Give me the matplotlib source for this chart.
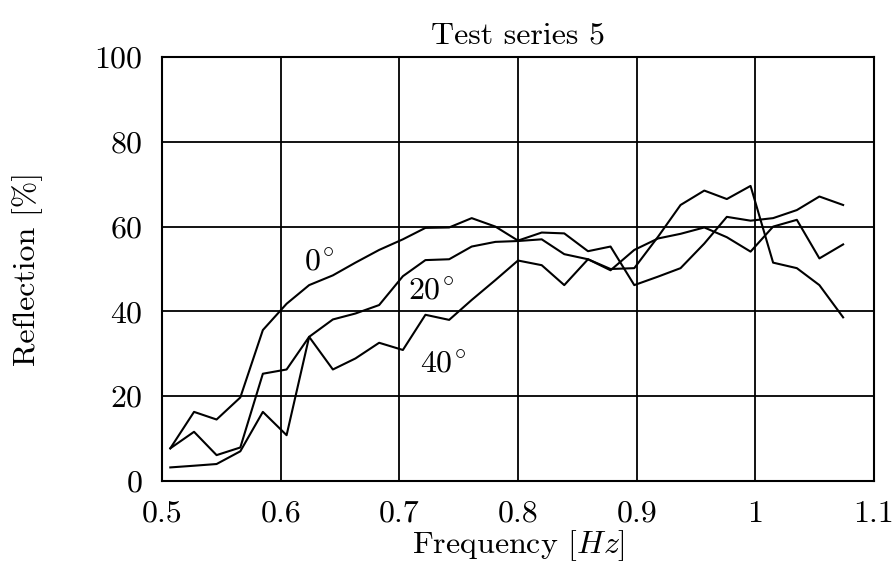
import matplotlib
matplotlib.use("Agg")
import matplotlib.pyplot as plt

# Reflection measurements, test series 5
freq = [0.507, 0.527, 0.546, 0.566, 0.585, 0.605, 0.624, 0.644, 0.663, 0.683,
        0.703, 0.722, 0.742, 0.761, 0.781, 0.800, 0.820, 0.839, 0.859, 0.878,
        0.898, 0.918, 0.937, 0.957, 0.976, 0.996, 1.015, 1.035, 1.054, 1.074]

refl_0 = [7.7, 16.3, 14.5, 19.7, 35.6, 41.8, 46.2, 48.5, 51.5, 54.5,
          57.0, 59.7, 59.8, 62.0, 60.0, 56.7, 58.6, 58.4, 54.2, 55.3,
          46.2, 48.2, 50.2, 56.0, 62.3, 61.4, 62.0, 63.9, 67.1, 65.1]

refl_20 = [7.7, 11.6, 6.1, 7.9, 25.3, 26.3, 34.0, 38.1, 39.5, 41.5,
           48.3, 52.1, 52.3, 55.3, 56.4, 56.6, 57.0, 53.5, 52.3, 49.7,
           54.5, 57.2, 58.3, 59.8, 57.5, 54.1, 60.0, 61.6, 52.5, 55.8]

refl_40 = [3.2, 3.6, 4.0, 7.0, 16.3, 10.8, 34.0, 26.3, 28.9, 32.6,
           30.9, 39.2, 38.0, 42.7, 47.4, 52.0, 50.9, 46.2, 52.3, 50.0,
           50.2, 57.6, 65.1, 68.5, 66.5, 69.6, 51.5, 50.2, 46.2, 38.6]

x_ticks = [0.5, 0.6, 0.7, 0.8, 0.9, 1.0, 1.1]
x_tick_labels = ["0.5", "0.6", "0.7", "0.8", "0.9", "1", "1.1"]
y_ticks = [0, 20, 40, 60, 80, 100]

plt.rcParams["font.family"] = "cmr10"
plt.rcParams["mathtext.fontset"] = "cm"
plt.rcParams["axes.formatter.use_mathtext"] = True

fig = plt.figure(figsize=(8.94, 5.68), dpi=100)
ax = fig.add_axes([0.1812, 0.1532, 0.7964, 0.7464])

for series in (refl_0, refl_20, refl_40):
    ax.plot(freq, series, color="black", linewidth=1.5)

# curve annotations
ax.text(0.632, 51.5, r"$0^{\!\circ}$", fontsize=23, ha="center", va="center")
ax.text(0.727, 44.6, r"$20^{\!\circ}$", fontsize=23, ha="center", va="center")
ax.text(0.737, 27.5, r"$40^{\!\circ}$", fontsize=23, ha="center", va="center")

ax.set_xlim(0.5, 1.1)
ax.set_ylim(0, 100)
ax.set_xticks(x_ticks)
ax.set_xticklabels(x_tick_labels)
ax.set_yticks(y_ticks)
ax.grid(True, color="black", linewidth=1.3)
ax.tick_params(length=0, labelsize=23, pad=14)
for spine in ax.spines.values():
    spine.set_linewidth(1.5)

ax.set_title("Test series 5", fontsize=23, pad=10)
ax.set_xlabel(r"Frequency $[Hz]$", fontsize=23, labelpad=0)
ax.set_ylabel("Reflection [%]", fontsize=23)
ax.yaxis.set_label_coords(-0.167, 0.5)

fig.savefig("out.png", dpi=100)
